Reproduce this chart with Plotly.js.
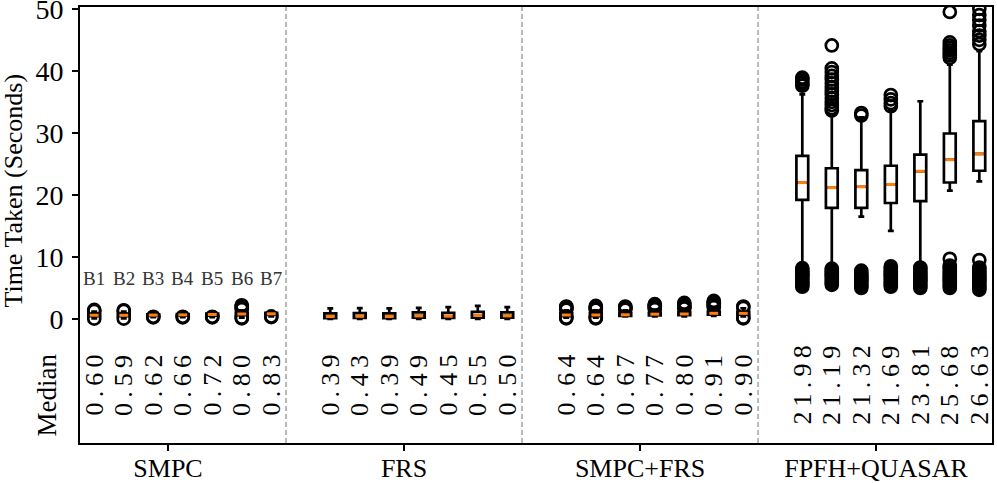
<!DOCTYPE html>
<html>
<head>
<meta charset="utf-8">
<script src="https://cdn.plot.ly/plotly-3.0.1.min.js"></script>
<style>
  body { margin: 0; background: #fff; }
  #chart { width: 997px; height: 483px; }
</style>
</head>
<body>
<div id="chart"></div>
<script>
// groups on the x axis and the 7 benchmarks inside each one
const groups = ["SMPC", "FRS", "SMPC+FRS", "FPFH+QUASAR"];
const boxLabels = ["B1", "B2", "B3", "B4", "B5", "B6", "B7"];

// box statistics per group (seconds)
const medians = [
  [0.60, 0.59, 0.62, 0.66, 0.72, 0.80, 0.83],
  [0.39, 0.43, 0.39, 0.49, 0.45, 0.55, 0.50],
  [0.64, 0.64, 0.67, 0.77, 0.80, 0.91, 0.90],
  [21.98, 21.19, 21.32, 21.69, 23.81, 25.68, 26.63]
];
const q1s = [
  [0.45, 0.45, 0.50, 0.52, 0.55, 0.60, 0.65],
  [0.15, 0.18, 0.15, 0.20, 0.18, 0.22, 0.20],
  [0.45, 0.45, 0.50, 0.58, 0.62, 0.70, 0.70],
  [19.2, 17.9, 17.9, 18.7, 19.0, 22.0, 23.9]
];
const q3s = [
  [0.80, 0.80, 0.75, 0.80, 0.88, 1.00, 0.98],
  [0.90, 0.95, 0.90, 1.05, 1.00, 1.15, 1.05],
  [0.90, 0.90, 0.90, 1.00, 1.05, 1.20, 1.15],
  [26.3, 24.3, 24.0, 24.7, 26.5, 29.9, 31.9]
];
const lowFence = [
  [0.10, 0.10, 0.30, 0.30, 0.30, 0.20, 0.40],
  [0.00, 0.00, 0.00, 0.00, 0.00, 0.00, 0.00],
  [0.20, 0.20, 0.40, 0.40, 0.40, 0.50, 0.40],
  [8.6, 8.4, 16.5, 14.2, 8.8, 20.7, 22.2]
];
const highFence = [
  [1.20, 1.20, 1.00, 1.10, 1.20, 1.40, 1.30],
  [1.70, 1.75, 1.70, 1.80, 1.90, 2.10, 1.90],
  [1.40, 1.40, 1.40, 1.50, 1.60, 1.80, 1.70],
  [36.2, 33.0, 32.5, 33.6, 35.1, 41.0, 43.2]
];
const outliers = [
  [
    [0.05, 1.30, 1.45],
    [0.05, 1.30, 1.40],
    [0.25, 0.35],
    [0.25, 0.35],
    [0.25, 0.35],
    [0.10, 0.20, 1.60, 1.80, 2.00, 2.20],
    [0.30, 0.40]
  ],
  [[], [], [], [], [], [], []],
  [
    [0.10, 0.20, 1.50, 1.70, 1.90, 2.00],
    [0.10, 0.20, 1.50, 1.70, 1.90, 2.10],
    [1.50, 1.70, 1.90, 2.00],
    [1.60, 1.80, 2.00, 2.20, 2.40],
    [1.70, 1.90, 2.10, 2.30, 2.60],
    [1.90, 2.10, 2.30, 2.50, 2.70, 2.90],
    [0.10, 0.20, 1.80, 2.00]
  ],
  [
    [5.2, 5.5, 5.8, 6.1, 6.4, 6.7, 7.0, 7.3, 7.6, 7.9, 8.2, 37.6, 37.9, 38.2, 38.6, 38.9],
    [5.5, 5.8, 6.1, 6.4, 6.7, 7.0, 7.3, 7.6, 7.9, 8.1, 33.6, 34.0, 34.5, 35.0, 35.6, 36.2,
     36.8, 37.4, 38.0, 38.6, 39.2, 39.8, 40.4, 44.1],
    [5.0, 5.3, 5.6, 5.9, 6.2, 6.5, 6.8, 7.1, 7.4, 7.8, 32.8, 33.2],
    [5.2, 5.5, 5.8, 6.1, 6.4, 6.7, 7.0, 7.3, 7.6, 7.9, 8.2, 8.5, 34.3, 34.8, 35.4, 36.1],
    [5.0, 5.3, 5.6, 5.9, 6.2, 6.5, 6.8, 7.1, 7.4, 7.7, 8.0, 8.3],
    [5.0, 5.3, 5.6, 5.9, 6.2, 6.5, 6.8, 7.1, 7.4, 7.7, 8.0, 8.3, 8.6, 9.7,
     42.1, 42.5, 42.9, 43.3, 43.7, 44.1, 44.6, 49.5],
    [4.7, 5.0, 5.3, 5.6, 5.9, 6.2, 6.5, 6.8, 7.1, 7.4, 7.7, 8.0, 8.3, 9.5,
     44.3, 45.0, 45.7, 46.4, 47.3, 48.2, 49.0, 50.0]
  ]
];
const yTicks = [0, 10, 20, 30, 40, 50];

const groupStep = 8;     // 7 boxes + 1 gap
const boxWidth = 0.4;
const orange = "#ff7f0e";
const serif = "Liberation Serif, Times New Roman, serif";

const traces = [];
const annotations = [];
const shapes = [];

groups.forEach((g, gi) => {
  const pos = boxLabels.map((_, i) => gi * groupStep + i);

  traces.push({
    type: "box",
    x: pos,
    q1: q1s[gi],
    median: medians[gi],
    q3: q3s[gi],
    lowerfence: lowFence[gi],
    upperfence: highFence[gi],
    width: boxWidth,
    whiskerwidth: 0.5,
    boxpoints: false,
    fillcolor: "#ffffff",
    line: { color: "#000000", width: 2.7 },
    hoverinfo: "skip",
    showlegend: false
  });

  // fliers
  const ox = [], oy = [];
  outliers[gi].forEach((vals, i) => vals.forEach(v => { ox.push(pos[i]); oy.push(v); }));
  traces.push({
    type: "scatter",
    mode: "markers",
    x: ox,
    y: oy,
    marker: { symbol: "circle-open", size: 12, color: "#000000", line: { width: 2.7 } },
    hoverinfo: "skip",
    showlegend: false
  });

  // orange median dashes
  const mx = [], my = [];
  pos.forEach((p, i) => {
    mx.push(p - 0.15, p + 0.15, null);
    my.push(medians[gi][i], medians[gi][i], null);
  });
  traces.push({
    type: "scatter",
    mode: "lines",
    x: mx,
    y: my,
    line: { color: orange, width: 3 },
    hoverinfo: "skip",
    showlegend: false
  });

  // median values written sideways under the boxes
  pos.forEach((p, i) => {
    annotations.push({
      x: p, y: -10.7, xref: "x", yref: "y",
      text: medians[gi][i].toFixed(2).split("").join("\u2009"),
      textangle: -90, showarrow: false,
      xanchor: "center", yanchor: "middle",
      font: { family: serif, size: 26, color: "#000000" }
    });
  });

  // dashed separator after each group but the last
  if (gi < groups.length - 1) {
    shapes.push({
      type: "line", xref: "x", yref: "paper",
      x0: gi * groupStep + 6.5, x1: gi * groupStep + 6.5, y0: 0, y1: 1,
      line: { color: "#8a8a8a", width: 1.2, dash: "5px,3px" }
    });
  }
});

// B1..B7 labels over the first group
boxLabels.forEach((b, i) => {
  annotations.push({
    x: i, y: 6.5, xref: "x", yref: "y", text: b, showarrow: false,
    xanchor: "center", yanchor: "middle",
    font: { family: serif, size: 19, color: "#333333" }
  });
});

annotations.push({
  x: -0.0359, y: -12.3, xref: "paper", yref: "y", text: "Median",
  textangle: -90, showarrow: false, xanchor: "center", yanchor: "middle",
  font: { family: serif, size: 27, color: "#000000" }
});
annotations.push({
  x: -0.0724, y: 20.7, xref: "paper", yref: "y", text: "Time Taken (Seconds)",
  textangle: -90, showarrow: false, xanchor: "center", yanchor: "middle",
  font: { family: serif, size: 26, color: "#000000" }
});

const layout = {
  width: 997,
  height: 483,
  margin: { l: 80, r: 5, t: 7, b: 40 },
  paper_bgcolor: "#ffffff",
  plot_bgcolor: "#ffffff",
  boxmode: "overlay",
  showlegend: false,
  font: { family: serif, color: "#000000" },
  xaxis: {
    range: [-0.483, 30.43],
    tickvals: groups.map((_, gi) => gi * groupStep + 2.5),
    ticktext: groups,
    ticks: "outside", ticklen: 6, tickwidth: 1.5, tickcolor: "#000",
    ticklabeloverflow: "allow",
    ticklabelstandoff: -5,
    tickfont: { family: serif, size: 26, color: "#000" },
    showgrid: false, zeroline: false,
    showline: true, linecolor: "#000", linewidth: 2, mirror: true
  },
  yaxis: {
    range: [-20, 50.3],
    tickmode: "array",
    tickvals: yTicks,
    ticktext: yTicks.map(String),
    ticks: "outside", ticklen: 6, tickwidth: 1.5, tickcolor: "#000",
    ticklabeloverflow: "allow",
    ticklabelstandoff: 3,
    tickfont: { family: serif, size: 28, color: "#000" },
    showgrid: false, zeroline: false,
    showline: true, linecolor: "#000", linewidth: 2, mirror: true
  },
  shapes: shapes,
  annotations: annotations
};

Plotly.newPlot("chart", traces, layout, { displayModeBar: false, staticPlot: true });
</script>
</body>
</html>
